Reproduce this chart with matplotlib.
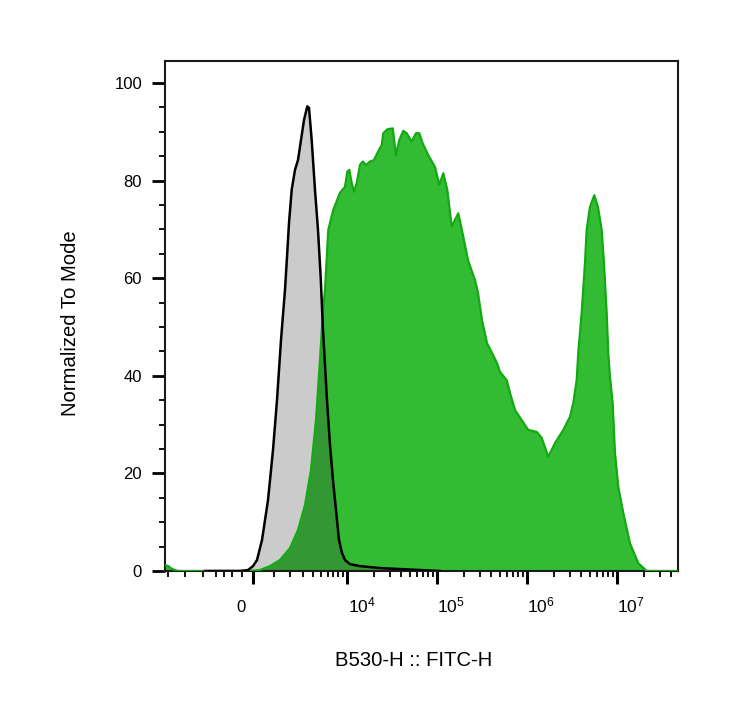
import numpy as np
import matplotlib
matplotlib.use("Agg")
import matplotlib.pyplot as plt
from matplotlib.ticker import FixedLocator, NullFormatter

plt.rcParams['font.family'] = ['Liberation Sans', 'DejaVu Sans']
plt.rcParams['mathtext.fontset'] = 'custom'
plt.rcParams['mathtext.rm'] = 'Liberation Sans'
plt.rcParams['mathtext.it'] = 'Liberation Sans:italic'
plt.rcParams['mathtext.bf'] = 'Liberation Sans:bold'

# ---------------- data ----------------
control_x = [-2833, -617, -233, 0, 187, 423, 716, 973, 1189, 1418, 1662, 1791, 1924,
             2111, 2355, 2590, 2841, 3108, 3424, 3596, 3883, 4259, 4627, 4982, 5303,
             5905, 6397, 6927, 7498, 8112, 8774, 9488, 10805, 13996, 23400, 39060,
             65180, 108700]
control_y = [0, 0, 0.2, 1.0, 2.25, 6.35, 14.5, 24.8, 35.0, 47.3, 57.6, 64.3, 71.3,
             78.1, 82.2, 84.2, 88.3, 92.4, 95.2, 94.9, 88.3, 78.1, 69.9, 60.2, 49.4,
             35.0, 25.8, 18.6, 12.5, 6.35, 3.7, 2.25, 1.4, 1.0, 0.6, 0.4, 0.2, 0]

sample_x = [-8548, -7901, -7113, -6066, -140, 328, 817, 1360, 1992, 2590, 3202, 3807,
            4379, 4888, 5303, 5597, 6114, 6982, 8328, 9488, 10074, 10611, 11293, 11984,
            12851, 13996, 15003, 16327, 18102, 20060, 21834, 24447, 25470, 28218, 32408,
            35269, 38378, 42515, 46381, 52712, 58849, 64032, 69843, 80598, 95675, 106800,
            118300, 131060, 146660, 173600, 197300, 222500, 266200, 287400, 318400,
            361800, 411200, 467300, 504500, 598700, 651400, 740300, 878500, 1040000,
            1289400, 1465300, 1734900, 2059000, 2546000, 3021000, 3287000, 3586000,
            3735000, 4074000, 4433000, 4630000, 5038000, 5624000, 6182000, 6796000,
            7207000, 7722000, 8045000, 8402000, 9003000, 9549000, 10389000, 11808000,
            14012000, 17325000, 21479000, 47870000]
sample_y = [1.23, 1.02, 0.41, 0, 0, 0.2, 1.0, 2.25, 4.7, 8.4, 13.5, 20.7,
            30.9, 43.2, 53.5, 57.6, 69.9, 74.0, 77.5, 78.7, 81.8, 82.2, 79.5, 77.7,
            79.5, 83.2, 83.9, 83.2, 83.9, 84.2, 85.6, 87.3, 89.7, 90.5, 90.7,
            85.2, 88.3, 90.2, 89.7, 88.0, 89.7, 89.7, 87.6, 85.2, 82.8, 79.1,
            81.5, 78.1, 70.6, 73.3, 68.5, 63.7, 59.6, 57.0, 51.4,
            46.7, 44.7, 42.6, 40.8, 39.1, 36.5, 33.0, 30.9, 28.9,
            28.5, 27.3, 23.4, 26.2, 28.9, 31.6, 34.4, 39.1,
            44.7, 52.9, 63.1, 69.9, 74.6, 77.0, 74.6, 69.9,
            63.1, 52.9, 44.7, 39.8, 34.4, 24.2, 17.2, 11.9,
            5.7, 1.6, 0, 0]

x_major = [0, 1e4, 1e5, 1e6, 1e7]
x_major_labels = ["0", "$10^{4}$", "$10^{5}$", "$10^{6}$", "$10^{7}$"]
x_minor = ([-8000, -5000, -3000, -2000, -1500, -1000, -500]
           + [k * 1000 for k in range(1, 10)]
           + [k * 1e4 for k in range(2, 10)]
           + [k * 1e5 for k in range(2, 10)]
           + [k * 1e6 for k in range(2, 10)]
           + [2e7, 3e7, 4e7])
y_major = [0, 20, 40, 60, 80, 100]
y_minor = [5, 10, 15, 25, 30, 35, 45, 50, 55, 65, 70, 75, 85, 90, 95]

x_label = "B530-H :: FITC-H"
y_label = "Normalized To Mode"

COF = 1821.0  # biexponential-like cofactor

# ---------------- figure ----------------
fig = plt.figure(figsize=(7.40, 7.28), dpi=100)
ax = fig.add_axes([165 / 740, 1 - 571 / 728, 513 / 740, 510 / 728])

ax.set_xscale('function', functions=(lambda v: np.arcsinh(np.asarray(v) / COF),
                                     lambda v: COF * np.sinh(np.asarray(v))))

green_fill = '#33bb33'
green_edge = '#11aa11'

ax.fill_between(sample_x, sample_y, 0, color=green_fill, lw=0, zorder=1)
ax.fill_between(control_x, control_y, 0, color='#333333', alpha=0.25, lw=0, zorder=2)
ax.plot(sample_x, sample_y, color=green_edge, lw=1.6, zorder=3, solid_joinstyle='round')
ax.plot(control_x, control_y, color='black', lw=1.8, zorder=4, solid_joinstyle='round')

ax.set_xlim(-8548, 4.787e7)
ax.set_ylim(0, 104.5)

ax.xaxis.set_major_locator(FixedLocator(x_major))
ax.xaxis.set_minor_locator(FixedLocator(x_minor))
ax.xaxis.set_major_formatter(NullFormatter())
ax.xaxis.set_minor_formatter(NullFormatter())
ax.yaxis.set_major_locator(FixedLocator(y_major))
ax.yaxis.set_minor_locator(FixedLocator(y_minor))
ax.set_yticklabels([str(v) for v in y_major])

ax.tick_params(axis='x', which='major', direction='out', length=9, width=2.2, color='black')
ax.tick_params(axis='x', which='minor', direction='out', length=4.5, width=1.3, color='black')
ax.tick_params(axis='y', which='major', direction='out', length=9.5, width=2.0,
               color='black', labelsize=12, pad=7)
ax.tick_params(axis='y', which='minor', direction='out', length=4.5, width=1.3, color='black')

for v, lab in zip(x_major, x_major_labels):
    if v == 0:
        ax.annotate(lab, xy=(v, 0), xycoords=('data', 'axes fraction'),
                    xytext=(-5.5, -29.5), textcoords='offset points',
                    ha='right', va='baseline', fontsize=12)
    else:
        ax.annotate(lab, xy=(v, 0), xycoords=('data', 'axes fraction'),
                    xytext=(0.5, -29.5), textcoords='offset points',
                    ha='left', va='baseline', fontsize=12.5)

for s in ax.spines.values():
    s.set_linewidth(1.5)
    s.set_color('#1a1a1a')

ax.set_xlabel(x_label, fontsize=14.6)
ax.xaxis.set_label_coords((414 - 165) / 513, (571 - 660) / 510)
ax.xaxis.label.set_va('center')
ax.set_ylabel(y_label, fontsize=14.6)
ax.yaxis.set_label_coords((70 - 165) / 513, (571 - 323) / 510)
ax.yaxis.label.set_va('center')

fig.savefig('out.png', dpi=100, facecolor='white')
